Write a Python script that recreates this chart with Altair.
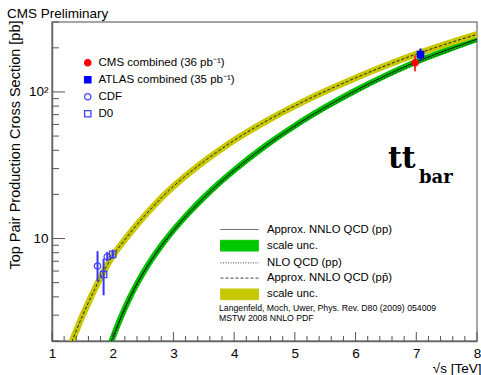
import altair as alt
import pandas as pd

# ---- theory curves: sqrt(s) [TeV] and cross section [pb] ----
sqrt_s_ppbar = [1.3, 1.35, 1.4, 1.5, 1.6, 1.7, 1.8, 1.9, 2.0, 2.2, 2.4, 2.6, 2.8, 3.0,
                3.25, 3.5, 3.75, 4.0, 4.5, 5.0, 5.5, 6.0, 6.5, 7.0, 7.5, 8.0]
sigma_ppbar_nnlo = [1.83, 2.09, 2.35, 2.96, 3.66, 4.48, 5.42, 6.49, 7.60, 9.83, 12.45, 15.45,
                    18.9, 22.7, 27.8, 33.5, 39.8, 46.8, 62.3, 80.4, 101.1, 124.7, 151.4,
                    181.1, 212.7, 247.2]

sqrt_s_pp = [1.95, 2.0, 2.1, 2.2, 2.3, 2.4, 2.6, 2.8, 3.0, 3.25, 3.5, 3.75, 4.0, 4.5,
             5.0, 5.5, 6.0, 6.5, 7.0, 7.5, 8.0]
sigma_pp_nnlo = [1.84, 2.10, 2.68, 3.35, 4.10, 4.93, 6.79, 8.95, 11.40, 14.93, 19.05, 23.82,
                 29.24, 42.46, 58.88, 78.7, 102.3, 129.7, 160.7, 193.0, 229.0]
sigma_pp_nlo = [1.79, 2.04, 2.60, 3.25, 3.98, 4.78, 6.59, 8.68, 11.06, 14.48, 18.48, 23.1,
                28.4, 41.2, 57.1, 76.3, 99.2, 125.8, 155.9, 187.2, 222.1]

# ---- measurements ----
exp_label = ["CMS combined (36 pb⁻¹)", "ATLAS combined (35 pb⁻¹)", "CDF", "D0", "CDF", "D0"]
exp_x = [6.98, 7.07, 1.75, 1.85, 1.91, 2.0]
exp_sigma = [158, 180, 6.5, 5.69, 7.5, 7.8]
exp_lo = [138, 163, 5.1, 4.1, 7.0, 7.3]
exp_hi = [177, 198, 8.2, 7.3, 8.1, 8.4]

point_legend = ["CMS combined (36 pb⁻¹)", "ATLAS combined (35 pb⁻¹)", "CDF", "D0"]
curve_legend = ["Approx. NNLO QCD (pp)", "scale unc.", "NLO QCD (pp)",
                "Approx. NNLO QCD (pp̄)", "scale unc. "]
citation = ["Langenfeld, Moch, Uwer, Phys. Rev. D80 (2009) 054009", "MSTW 2008 NNLO PDF"]

# ---- axis ticks ----
x_major = [1, 2, 3, 4, 5, 6, 7, 8]
x_minor = [1.2, 1.4, 1.6, 1.8, 2.2, 2.4, 2.6, 2.8, 3.2, 3.4, 3.6, 3.8, 4.2, 4.4, 4.6, 4.8,
           5.2, 5.4, 5.6, 5.8, 6.2, 6.4, 6.6, 6.8, 7.2, 7.4, 7.6, 7.8]
y_major = [10, 100]
y_minor = [2, 3, 4, 5, 6, 7, 8, 9, 20, 30, 40, 50, 60, 70, 80, 90, 200, 300]

FONT = "Liberation Sans"
W, H = 425, 319

ppbar = pd.DataFrame({"s": sqrt_s_ppbar, "sigma": sigma_ppbar_nnlo})
pp = pd.DataFrame({"s": sqrt_s_pp, "sigma": sigma_pp_nnlo})
pp_nlo = pd.DataFrame({"s": sqrt_s_pp, "sigma": sigma_pp_nlo})
meas = pd.DataFrame({"label": exp_label, "s": exp_x, "sigma": exp_sigma,
                     "lo": exp_lo, "hi": exp_hi})
leg2 = pd.DataFrame({"curve": curve_legend})

XS = alt.Scale(domain=[1, 8], nice=False, zero=False)
YS = alt.Scale(type="log", domain=[2, 300], nice=False)
XAX = alt.Axis(values=x_major, ticks=False, grid=False, labelFlush=False, labelOverlap=False,
               labelFontSize=13.5, labelPadding=5, format="d",
               domainColor="#666", domainWidth=1.5,
               titleFontSize=13.5, titleFontWeight="normal", titleAlign="right",
               titleX=W + 4, titleY=31, titleBaseline="alphabetic")
YAX = alt.Axis(values=y_major, ticks=False, grid=False, labelOverlap=False,
               labelExpr="datum.value >= 100 ? '10²' : '10'",
               labelFontSize=13.5, labelPadding=4, domainColor="#666", domainWidth=1.5,
               titleFontSize=14.5, titleFontWeight="normal", titleAngle=270,
               titleAlign="right", titleBaseline="middle", titleX=-37, titleY=-2)
XT = "√s [TeV]"
YT = "Top Pair Production Cross Section [pb]"


def X(f="s"):
    return alt.X(f"{f}:Q", scale=XS, axis=XAX, title=XT)


def Y(f="sigma"):
    return alt.Y(f"{f}:Q", scale=YS, axis=YAX, title=YT)


green_band = alt.Chart(pp).mark_line(color="#00c000", strokeWidth=6, clip=True,
                                     interpolate="monotone").encode(x=X(), y=Y())
green_line = alt.Chart(pp).mark_line(color="#111", strokeWidth=1, clip=True,
                                     interpolate="monotone").encode(x=X(), y=Y())
green_nlo = alt.Chart(pp_nlo).mark_line(color="#111", strokeWidth=1, strokeDash=[1, 2],
                                        clip=True, interpolate="monotone").encode(x=X(), y=Y())
yellow_band = alt.Chart(ppbar).mark_line(color="#c8c800", strokeWidth=6.5, clip=True,
                                         interpolate="monotone").encode(x=X(), y=Y())
yellow_line = alt.Chart(ppbar).mark_line(color="#222", strokeWidth=1, strokeDash=[3, 2],
                                         clip=True, interpolate="monotone").encode(x=X(), y=Y())

err_colors = ["#ff3030", "#0000ff", "#3535ff", "#3535ff"]
errbars = alt.Chart(meas).mark_rule(strokeWidth=2).encode(
    x=X(), y=Y("lo"), y2="hi:Q",
    color=alt.Color("label:N", scale=alt.Scale(domain=point_legend, range=err_colors), legend=None))

leg1 = alt.Legend(orient="none", legendX=30, legendY=35, title=None, padding=0,
                  labelFontSize=11.5, labelFont=FONT, labelOffset=5, rowPadding=4,
                  symbolSize=40, symbolStrokeWidth=1.3)
points = alt.Chart(meas).mark_point(size=40, strokeWidth=1.3, opacity=1).encode(
    x=X(), y=Y(),
    shape=alt.Shape("label:N", scale=alt.Scale(domain=point_legend,
                                               range=["circle", "square", "circle", "square"]),
                    legend=leg1),
    fill=alt.Fill("label:N", scale=alt.Scale(domain=point_legend,
                                             range=["#ff0000", "#0000ff", "transparent", "transparent"]),
                  legend=leg1),
    stroke=alt.Stroke("label:N", scale=alt.Scale(domain=point_legend,
                                                 range=["#ff0000", "#0000ff", "#4040ff", "#4040ff"]),
                      legend=leg1),
)

LINE = "M-0.833,0H5.5"
BOX = "M-0.833,-0.9H5.5V0.9H-0.833Z"
leg2_def = alt.Legend(orient="none", legendX=167, legendY=201, title=citation,
                      titleOrient="bottom", titleAnchor="start", titleAlign="left",
                      titleFontSize=8.7, titleFontWeight="normal", titleFont=FONT,
                      titlePadding=2, titleLimit=400, titleLineHeight=10, padding=0,
                      labelFontSize=11.3, labelFont=FONT, labelOffset=35, rowPadding=3.2,
                      symbolSize=144, symbolStrokeWidth=1)
legend_layer = alt.Chart(leg2).mark_point(opacity=1).encode(
    shape=alt.Shape("curve:N", scale=alt.Scale(domain=curve_legend,
                                               range=[LINE, BOX, LINE, LINE, BOX]), legend=leg2_def),
    fill=alt.Fill("curve:N", scale=alt.Scale(domain=curve_legend,
                                             range=["transparent", "#00c800", "transparent",
                                                    "transparent", "#c8c800"]), legend=leg2_def),
    stroke=alt.Stroke("curve:N", scale=alt.Scale(domain=curve_legend,
                                                 range=["#444", "#00c800", "#444", "#444", "#c8c800"]),
                      legend=leg2_def),
    strokeDash=alt.StrokeDash("curve:N", scale=alt.Scale(domain=curve_legend,
                                                         range=[[1, 0], [1, 0], [1, 1.5], [3, 2], [1, 0]]),
                              legend=leg2_def),
).transform_filter("false")

ymaj = alt.Chart(pd.DataFrame({"sigma": y_major})).mark_rule(color="#555").encode(
    y=Y(), x=alt.value(0), x2=alt.value(13))
ymin = alt.Chart(pd.DataFrame({"sigma": y_minor})).mark_rule(color="#555").encode(
    y=Y(), x=alt.value(0), x2=alt.value(7))
xmaj = alt.Chart(pd.DataFrame({"s": x_major})).mark_rule(color="#555").encode(
    x=X(), y=alt.value(H), y2=alt.value(H - 9))
xmin = alt.Chart(pd.DataFrame({"s": x_minor})).mark_rule(color="#555").encode(
    x=X(), y=alt.value(H), y2=alt.value(H - 5))

tt = alt.Chart(pd.DataFrame({"t": ["tt"]})).mark_text(
    font="DejaVu Serif", fontWeight="bold", fontSize=30, align="left", baseline="alphabetic",
    color="black").encode(text="t:N", x=alt.value(336), y=alt.value(146))
bar = alt.Chart(pd.DataFrame({"t": ["bar"]})).mark_text(
    font="DejaVu Serif", fontWeight="bold", fontSize=18, align="left", baseline="alphabetic",
    color="black").encode(text="t:N", x=alt.value(367), y=alt.value(161))

chart = alt.layer(
    green_band, green_line, green_nlo, yellow_band, yellow_line,
    errbars, points, legend_layer, ymaj, ymin, xmaj, xmin, tt, bar,
).resolve_scale(
    shape="independent", fill="independent", stroke="independent", strokeDash="independent"
).properties(
    width=W, height=H,
    autosize=alt.AutoSizeParams(type="none"),
    padding={"left": 52, "top": 22, "right": 4, "bottom": 34},
    title=alt.Title("CMS Preliminary", anchor="start", fontSize=13.5, font=FONT,
                    fontWeight="normal", offset=0, color="black"),
).configure(font=FONT).configure_view(
    stroke="#888", strokeWidth=1.5
).configure_axis(labelFont=FONT, titleFont=FONT, labelColor="black", titleColor="black")

chart.save("out.html", embed_options={"renderer": "svg", "actions": False})
